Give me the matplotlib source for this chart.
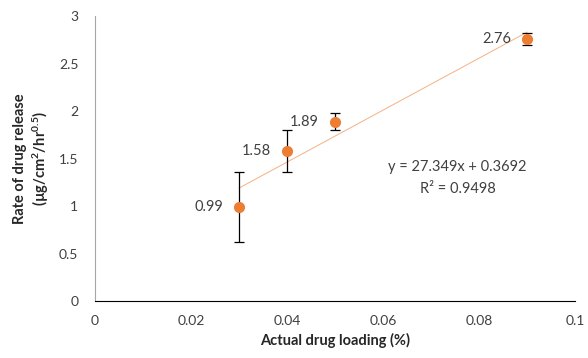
import matplotlib
matplotlib.use('Agg')
import matplotlib.pyplot as plt
import numpy

plt.rcParams['font.family'] = ['Lato', 'DejaVu Sans']
plt.rcParams['mathtext.fontset'] = 'custom'
plt.rcParams['mathtext.rm'] = 'Lato:bold'
plt.rcParams['mathtext.default'] = 'rm'

loading = [0.03, 0.04, 0.05, 0.09]
rate = [0.99, 1.58, 1.89, 2.76]
rate_err = [0.37, 0.225, 0.09, 0.065]
labels = ['0.99', '1.58', '1.89', '2.76']
slope, intercept = 27.349, 0.3692
x_ticks = [0, 0.02, 0.04, 0.06, 0.08, 0.1]
x_tick_labels = ['0', '0.02', '0.04', '0.06', '0.08', '0.1']
y_ticks = [0, 0.5, 1, 1.5, 2, 2.5, 3]
y_tick_labels = ['0', '0.5', '1', '1.5', '2', '2.5', '3']

fig = plt.figure(figsize=(5.88, 3.58), dpi=100)
ax = fig.add_axes([0.1616, 0.159, 0.8164, 0.796])

orange = '#ED7D31'
x_fit = numpy.array([min(loading), max(loading)])
ax.plot(x_fit, slope * x_fit + intercept, color='#F4B183', lw=0.7, zorder=2)
ax.errorbar(loading, rate, yerr=rate_err, fmt='none', ecolor='black', elinewidth=0.9,
            capsize=3.5, capthick=0.9, zorder=3)
ax.plot(loading, rate, 'o', color=orange, markersize=7, zorder=4)

for xv, yv, lab in zip(loading, rate, labels):
    ax.annotate(lab, (xv, yv), xytext=(-16, 0), textcoords='offset pixels',
                ha='right', va='center', fontsize=10.5, color='#404040')

ax.text(0.0755, 1.41, 'y = 27.349x + 0.3692', ha='center', va='center', fontsize=10.5, color='#404040')
ax.text(0.0755, 1.18, 'R² = 0.9498', ha='center', va='center', fontsize=10.5, color='#404040')

ax.set_xlim(0, 0.1)
ax.set_ylim(0, 3)
ax.set_xticks(x_ticks)
ax.set_xticklabels(x_tick_labels)
ax.set_yticks(y_ticks)
ax.set_yticklabels(y_tick_labels)
ax.tick_params(length=0, labelsize=10, labelcolor='#404040', pad=10)
ax.tick_params(axis='y', pad=12)

ax.spines['top'].set_visible(False)
ax.spines['right'].set_visible(False)
ax.spines['left'].set_color('#A6A6A6')
ax.spines['bottom'].set_color('black')

ax.set_xlabel('Actual drug loading (%)', fontsize=10.5, fontweight='bold', color='#262626')
ax.set_ylabel('Rate of drug release\n(µg/cm$^{2}$/hr$^{0.5}$)', fontsize=10.5, fontweight='bold',
              color='#262626', labelpad=6)

fig.savefig('out.png', dpi=100)
